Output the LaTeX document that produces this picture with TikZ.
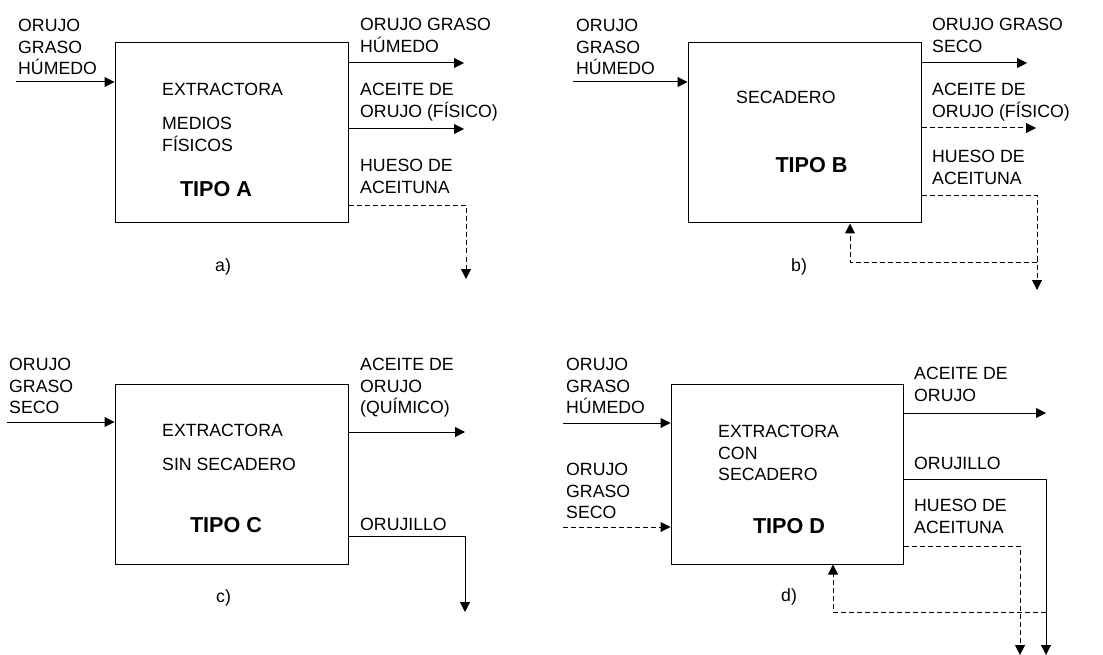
\documentclass[tikz,border=0pt]{standalone}
\usepackage{fontspec}
\setmainfont{Liberation Sans}
\usetikzlibrary{arrows.meta}
\tikzstyle{block} = [rectangle, minimum width=233pt, minimum height=180pt, draw=black, line width=1pt, inner sep=0pt]
\tikzstyle{lbl} = [anchor=north west, inner sep=0pt, align=left, font=\fontsize{17.7}{21.7}\selectfont]
\tikzstyle{tipo} = [inner sep=0pt, font=\fontsize{21.6}{26}\selectfont\bfseries]
\tikzstyle{sublbl} = [anchor=base west, inner sep=0pt, font=\fontsize{17.7}{21.7}\selectfont]
\tikzstyle{arrow} = [line width=1pt,-{Triangle[length=10pt,width=10pt]}]
\tikzstyle{dline} = [dash pattern=on 5pt off 3pt]

\begin{document}
\begin{tikzpicture}[x=1pt,y=-1pt]
\useasboundingbox (0,0) rectangle (1103,655);

% a) tipo A
\node (boxA) [block] at (231.5,133) {};
\node (lblInA) [lbl] at (18,19) {ORUJO\\GRASO\\HÚMEDO};
\node (lblOutA1) [lbl] at (360,18) {ORUJO GRASO\\HÚMEDO};
\node (lblOutA2) [lbl] at (360,83) {ACEITE DE\\ORUJO (FÍSICO)};
\node (lblHueA) [lbl] at (360,159) {HUESO DE\\ACEITUNA};
\node (txtA1) [lbl] at (162,83) {EXTRACTORA};
\node (txtA2) [lbl] at (162,117) {MEDIOS\\FÍSICOS};
\node (tipoA) [tipo] at (216,189) {TIPO A};
\node (subA) [sublbl] at (215,272) {a)};
\coordinate (inA) at (16,82);
\coordinate (outA1) at (464,63);
\coordinate (outA2) at (464,129);
\coordinate (hueA) at (466,206);
\coordinate (hueAend) at (466,279);
\draw [arrow] (inA) -- (inA -| boxA.west);
\draw [arrow] (outA1 -| boxA.east) -- (outA1);
\draw [arrow] (outA2 -| boxA.east) -- (outA2);
\draw [arrow,dline] (hueA -| boxA.east) -- (hueA) -- (hueAend);

% b) tipo B
\node (boxB) [block] at (804.5,133) {};
\node (lblInB) [lbl] at (576,19) {ORUJO\\GRASO\\HÚMEDO};
\node (lblOutB1) [lbl] at (932,18) {ORUJO GRASO\\SECO};
\node (lblOutB2) [lbl] at (932,83) {ACEITE DE\\ORUJO (FÍSICO)};
\node (lblHueB) [lbl] at (932,150) {HUESO DE\\ACEITUNA};
\node (txtB) [lbl] at (736,91) {SECADERO};
\node (tipoB) [tipo] at (811.5,165) {TIPO B};
\node (subB) [sublbl] at (791,272) {b)};
\coordinate (inB) at (573,82);
\coordinate (outB1) at (1027,63);
\coordinate (outB2) at (1036,128);
\coordinate (hueB) at (1037,196);
\coordinate (hueBend) at (1037,290);
\coordinate (recB) at (1037,262);
\coordinate (recBc) at (850,262);
\draw [arrow] (inB) -- (inB -| boxB.west);
\draw [arrow] (outB1 -| boxB.east) -- (outB1);
\draw [arrow,dline] (outB2 -| boxB.east) -- (outB2);
\draw [arrow,dline] (hueB -| boxB.east) -- (hueB) -- (hueBend);
\draw [arrow,dline] (recB) -- (recBc) -- (recBc |- boxB.south);

% c) tipo C
\node (boxC) [block] at (231.5,474) {};
\node (lblInC) [lbl] at (9,358) {ORUJO\\GRASO\\SECO};
\node (lblOutC1) [lbl] at (360,358) {ACEITE DE\\ORUJO\\(QUÍMICO)};
\node (lblOrujC) [lbl] at (360,518) {ORUJILLO};
\node (txtC1) [lbl] at (162,424) {EXTRACTORA};
\node (txtC2) [lbl] at (162,458) {SIN SECADERO};
\node (tipoC) [tipo] at (226,525) {TIPO C};
\node (subC) [sublbl] at (216,602) {c)};
\coordinate (inC) at (7,422);
\coordinate (outC1) at (465,432);
\coordinate (orujC) at (465,536);
\coordinate (orujCend) at (465,612);
\draw [arrow] (inC) -- (inC -| boxC.west);
\draw [arrow] (outC1 -| boxC.east) -- (outC1);
\draw [arrow] (orujC -| boxC.east) -- (orujC) -- (orujCend);

% d) tipo D
\node (boxD) [block, minimum width=232pt] at (787,474) {};
\node (lblInD1) [lbl] at (566,358) {ORUJO\\GRASO\\HÚMEDO};
\node (lblInD2) [lbl] at (566,463) {ORUJO\\GRASO\\SECO};
\node (lblOutD1) [lbl] at (914,367) {ACEITE DE\\ORUJO};
\node (lblOrujD) [lbl] at (914,457) {ORUJILLO};
\node (lblHueD) [lbl] at (914,499) {HUESO DE\\ACEITUNA};
\node (txtD) [lbl] at (718,425) {EXTRACTORA\\CON\\SECADERO};
\node (tipoD) [tipo] at (789,526) {TIPO D};
\node (subD) [sublbl] at (781,601) {d)};
\coordinate (inD1) at (563,423);
\coordinate (inD2) at (563,527);
\coordinate (outD1) at (1046,413);
\coordinate (orujD) at (1046,479);
\coordinate (orujDend) at (1046,655);
\coordinate (hueD) at (1020,546);
\coordinate (hueDend) at (1020,655);
\coordinate (recD) at (1046,612);
\coordinate (recDc) at (833,612);
\draw [arrow] (inD1) -- (inD1 -| boxD.west);
\draw [arrow,dline] (inD2) -- (inD2 -| boxD.west);
\draw [arrow] (outD1 -| boxD.east) -- (outD1);
\draw [arrow] (orujD -| boxD.east) -- (orujD) -- (orujDend);
\draw [arrow,dline] (hueD -| boxD.east) -- (hueD) -- (hueDend);
\draw [arrow,dline] (recD) -- (recDc) -- (recDc |- boxD.south);
\end{tikzpicture}
\end{document}
